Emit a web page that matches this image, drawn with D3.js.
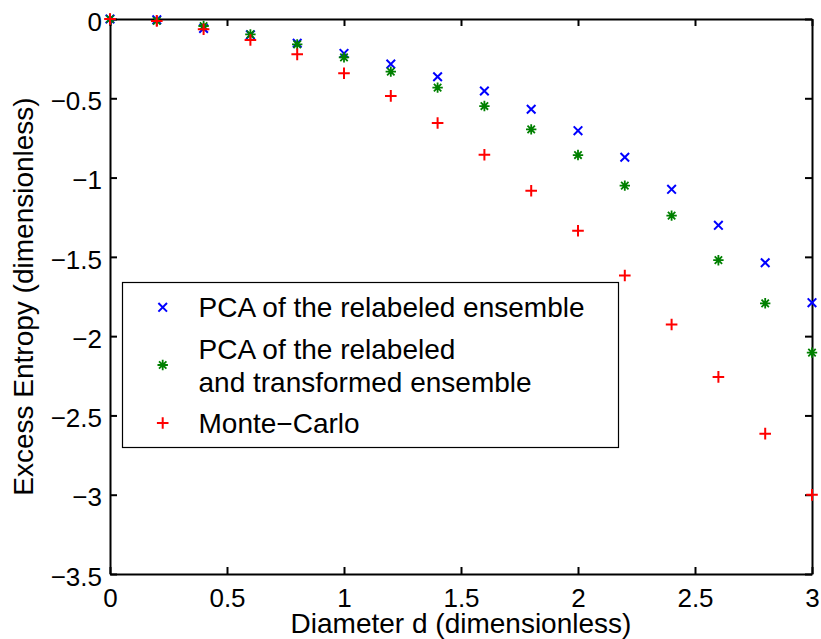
<!DOCTYPE html>
<html>
<head>
<meta charset="utf-8">
<script src="https://cdn.jsdelivr.net/npm/d3@7"></script>
<style>
  html, body { margin: 0; padding: 0; background: #fff; }
  svg { display: block; }
  text { font-family: "Liberation Sans", Arial, Helvetica, sans-serif; fill: #000; }
</style>
</head>
<body>
<svg id="chart" width="821" height="639"></svg>
<script>
// Diameter values (dimensionless)
const diameters = [0, 0.2, 0.4, 0.6, 0.8, 1.0, 1.2, 1.4, 1.6, 1.8, 2.0, 2.2, 2.4, 2.6, 2.8, 3.0];

// Excess entropy estimates for each method
const pcaRelabeled = [0, -0.005, -0.06, -0.10, -0.153, -0.217, -0.284, -0.364, -0.454, -0.569, -0.704, -0.872, -1.074, -1.301, -1.537, -1.789];
const pcaTransformed = [0, -0.012, -0.044, -0.097, -0.160, -0.242, -0.332, -0.433, -0.549, -0.696, -0.858, -1.051, -1.240, -1.521, -1.793, -2.104];
const monteCarlo = [0, -0.012, -0.065, -0.132, -0.223, -0.342, -0.485, -0.656, -0.856, -1.083, -1.335, -1.618, -1.927, -2.257, -2.615, -3.001];

// Axis ticks
const xTicks = [0, 0.5, 1, 1.5, 2, 2.5, 3];
const yTicks = [0, -0.5, -1, -1.5, -2, -2.5, -3, -3.5];

const seriesNames = ["PCA of the relabeled ensemble", "PCA of the relabeled\nand transformed ensemble", "Monte\u2212Carlo"];

const series = [
  { name: seriesNames[0], values: pcaRelabeled, color: "#0000ff", marker: "x" },
  { name: seriesNames[1], values: pcaTransformed, color: "#008000", marker: "star" },
  { name: seriesNames[2], values: monteCarlo, color: "#ff0000", marker: "plus" }
];

const margin = { left: 110, right: 9, top: 19, bottom: 65 };
const W = 821, H = 639;
const svg = d3.select("#chart");

const x = d3.scaleLinear().domain([0, 3]).range([margin.left, W - margin.right]);
const y = d3.scaleLinear().domain([-3.5, 0]).range([H - margin.bottom, margin.top]);

const fmt = v => (v < 0 ? "\u2212" : "") + Math.abs(v);

// Marker shapes as path strings centred at the origin
function markerPath(type) {
  if (type === "x") {
    const s = 4.3;
    return `M${-s},${-s}L${s},${s}M${-s},${s}L${s},${-s}`;
  }
  if (type === "plus") {
    const s = 5.8;
    return `M${-s},0L${s},0M0,${-s}L0,${s}`;
  }
  const p = 5.2, d = 3.7;
  return `M${-p},0L${p},0M0,${-p}L0,${p}M${-d},${-d}L${d},${d}M${-d},${d}L${d},${-d}`;
}

const tickLen = 7;
const axisFont = 26;

// Bottom axis with labels
const gx = svg.append("g")
  .attr("transform", `translate(0,${y(-3.5)})`)
  .call(d3.axisBottom(x).tickValues(xTicks).tickFormat(fmt).tickSizeInner(-tickLen).tickSizeOuter(0).tickPadding(14));
// Left axis with labels
const gy = svg.append("g")
  .attr("transform", `translate(${x(0)},0)`)
  .call(d3.axisLeft(y).tickValues(yTicks).tickFormat(fmt).tickSizeInner(-tickLen).tickSizeOuter(0).tickPadding(8));
// Top and right box edges with inward ticks
const gt = svg.append("g")
  .attr("transform", `translate(0,${y(0)})`)
  .call(d3.axisTop(x).tickValues(xTicks).tickFormat("").tickSizeInner(-tickLen).tickSizeOuter(0));
const gr = svg.append("g")
  .attr("transform", `translate(${x(3)},0)`)
  .call(d3.axisRight(y).tickValues(yTicks).tickFormat("").tickSizeInner(-tickLen).tickSizeOuter(0));

[gx, gy, gt, gr].forEach(g => {
  g.selectAll(".domain").attr("stroke", "#000").attr("stroke-width", 2);
  g.selectAll(".tick line").attr("stroke", "#000").attr("stroke-width", 2);
  g.selectAll(".tick text")
    .attr("font-size", axisFont)
    .attr("font-family", "'Liberation Sans', Arial, Helvetica, sans-serif")
    .attr("fill", "#000");
});
gy.selectAll(".tick text").attr("dy", "0.43em");
gx.selectAll(".tick text").attr("dy", "0.72em");

// Axis titles
svg.append("text")
  .attr("x", (x(0) + x(3)) / 2)
  .attr("y", 633)
  .attr("text-anchor", "middle")
  .attr("font-size", 28)
  .text("Diameter d (dimensionless)");

svg.append("text")
  .attr("transform", `translate(33,${(y(0) + y(-3.5)) / 2}) rotate(-90)`)
  .attr("text-anchor", "middle")
  .attr("font-size", 28)
  .text("Excess Entropy (dimensionless)");

// Data markers
series.forEach(s => {
  svg.append("g")
    .selectAll("path")
    .data(diameters.map((d, i) => [d, s.values[i]]))
    .join("path")
    .attr("transform", d => `translate(${x(d[0])},${y(d[1])})`)
    .attr("d", markerPath(s.marker))
    .attr("fill", "none")
    .attr("stroke", s.color)
    .attr("stroke-width", s.marker === "star" ? 1.8 : 2);
});

// Legend
const legend = svg.append("g");
legend.append("rect")
  .attr("x", 122.5).attr("y", 282.5)
  .attr("width", 496).attr("height", 165)
  .attr("fill", "#fff")
  .attr("stroke", "#000")
  .attr("stroke-width", 1.2);

const legendRows = [
  { lines: [seriesNames[0]], baseline: 316.7, markerY: 307.3 },
  { lines: seriesNames[1].split("\n"), baseline: 359, markerY: 365 },
  { lines: [seriesNames[2]], baseline: 433, markerY: 423 }
];

legendRows.forEach((row, i) => {
  legend.append("path")
    .attr("transform", `translate(162.7,${row.markerY})`)
    .attr("d", markerPath(series[i].marker))
    .attr("fill", "none")
    .attr("stroke", series[i].color)
    .attr("stroke-width", series[i].marker === "star" ? 1.8 : 2);
  row.lines.forEach((line, j) => {
    legend.append("text")
      .attr("x", 198.5)
      .attr("y", row.baseline + j * 32.7)
      .attr("font-size", 28)
      .text(line);
  });
});
</script>
</body>
</html>
